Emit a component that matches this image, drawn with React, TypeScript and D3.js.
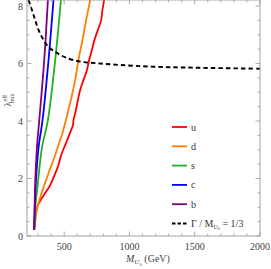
import React from "react";
import * as d3 from "d3";

const W = 271;
const H = 269;

// Series: [M (GeV), lambda]
const uData: [number, number][] = [
  [270, 0.21], [278, 0.63], [286, 0.83], [299, 1.08], [329, 1.32], [360, 1.53],
  [393, 1.77], [426, 2.12], [456, 2.47], [477, 2.82], [508, 3.17], [538, 3.51],
  [567, 3.86], [571, 4.03], [590, 4.38], [605, 4.73], [622, 5.08], [648, 5.43],
  [674, 5.77], [691, 6.12], [712, 6.47], [732, 6.82], [758, 7.17], [783, 7.51],
  [793, 7.86], [806, 8.21],
];
const dData: [number, number][] = [
  [270, 0.21], [278, 0.49], [286, 0.83], [299, 1.08], [329, 1.53], [375, 2.12],
  [431, 2.82], [482, 3.51], [513, 4.03], [551, 4.73], [584, 5.43], [609, 6.12],
  [640, 6.82], [668, 7.51], [699, 8.21],
];
const sData: [number, number][] = [
  [270, 0.21], [278, 0.97], [299, 1.88], [329, 3.06], [375, 4.03], [431, 6.12], [475, 8.21],
];
const cData: [number, number][] = [
  [270, 0.21], [283, 1.88], [303, 3.06], [334, 4.03], [380, 6.12], [418, 8.21],
];
const bData: [number, number][] = [
  [270, 0.21], [278, 1.88], [291, 3.06], [309, 4.03], [347, 6.12], [375, 8.21],
];
const widthData: [number, number][] = [
  [227, 8.21], [253, 7.86], [278, 7.51], [303, 7.17], [342, 6.82], [380, 6.58],
  [444, 6.37], [521, 6.19], [635, 6.06], [750, 6.01], [928, 5.95], [1181, 5.89],
  [1563, 5.85], [2000, 5.82],
];

const seriesNames = ["u", "d", "s", "c", "b"];
const seriesColors = ["#ff0000", "#ff8000", "#1fb21f", "#0000ff", "#800080"];
const seriesData = [uData, dData, sData, cData, bData];

const xTicks = [500, 1000, 1500, 2000];
const yTicks = [0, 2, 4, 6, 8];

export default function App() {
  const left = 27, right = 260, top = 0, bottom = 236;
  const x = d3.scaleLinear().domain([215, 2000]).range([left, right]);
  const y = d3.scaleLinear().domain([0, 8.21]).range([bottom, top]);
  const line = d3
    .line<[number, number]>()
    .x((d) => x(d[0]))
    .y((d) => y(d[1]))
    .curve(d3.curveCatmullRom.alpha(0.5));

  const xMinor = d3.range(300, 2001, 100).filter((v) => v % 500 !== 0);
  const yMinor = d3.range(0.5, 8.2, 0.5).filter((v) => v % 2 !== 0);
  const frame = "#999";
  const font = "'Liberation Serif', 'DejaVu Serif', serif";
  const txt = "#444";

  const legX1 = 172, legX2 = 187, legTx = 191;
  const legY0 = 127, legDy = 19.3;

  return (
    <svg
      width={W}
      height={H}
      style={{ position: "absolute", left: 0, top: 0, background: "#fff" }}
      fontFamily={font}
    >
      <defs>
        <clipPath id="clip">
          <rect x={left} y={top} width={right - left} height={bottom - top} />
        </clipPath>
      </defs>
      {/* ticks */}
      <g stroke={frame} strokeWidth={0.8}>
        {xTicks.map((t) => (
          <g key={"xt" + t}>
            <line x1={x(t)} x2={x(t)} y1={bottom} y2={bottom - 4.5} />
            <line x1={x(t)} x2={x(t)} y1={top} y2={top + 4.5} />
          </g>
        ))}
        {xMinor.map((t) => (
          <g key={"xm" + t}>
            <line x1={x(t)} x2={x(t)} y1={bottom} y2={bottom - 2.5} />
            <line x1={x(t)} x2={x(t)} y1={top} y2={top + 2.5} />
          </g>
        ))}
        {yTicks.map((t) => (
          <g key={"yt" + t}>
            <line x1={left} x2={left + 4.5} y1={y(t)} y2={y(t)} />
            <line x1={right} x2={right - 4.5} y1={y(t)} y2={y(t)} />
          </g>
        ))}
        {yMinor.map((t) => (
          <g key={"ym" + t}>
            <line x1={left} x2={left + 2.5} y1={y(t)} y2={y(t)} />
            <line x1={right} x2={right - 2.5} y1={y(t)} y2={y(t)} />
          </g>
        ))}
      </g>
      {/* curves */}
      <g clipPath="url(#clip)" fill="none">
        {seriesData.map((d, i) => (
          <path key={seriesNames[i]} d={line(d) || ""} stroke={seriesColors[i]} strokeWidth={1.8} />
        ))}
        <path d={line(widthData) || ""} stroke="#000" strokeWidth={1.9} strokeDasharray="4.5,3" />
      </g>
      {/* frame */}
      <rect x={left} y={top} width={right - left} height={bottom - top} fill="none" stroke={frame} strokeWidth={0.9} />
      {/* tick labels */}
      <g fontSize={10} fill={txt}>
        {xTicks.map((t) => (
          <text key={"xl" + t} x={x(t)} y={bottom + 14} textAnchor="middle">
            {t}
          </text>
        ))}
        {yTicks.map((t) => (
          <text key={"yl" + t} x={left - 4} y={y(t) + 3.5} textAnchor="end">
            {t}
          </text>
        ))}
      </g>
      {/* axis labels */}
      <text x={126} y={262} fontSize={10} fill={txt}>
        <tspan fontStyle="italic">M</tspan>
        <tspan fontSize={7} dy={2} fontStyle="italic">U</tspan>
        <tspan fontSize={5} dy={1.5}>λ</tspan>
        <tspan dy={-3.5}> (GeV)</tspan>
      </text>
      <g transform="translate(11,100) rotate(-90)">
        <text x={0} y={0} fontSize={10} fill={txt} textAnchor="middle">
          <tspan>λ</tspan>
          <tspan fontSize={6} dy={-4}>eff</tspan>
          <tspan fontSize={6} dx={-8} dy={7}>mix</tspan>
        </text>
      </g>
      {/* legend */}
      <g>
        {seriesNames.map((n, i) => (
          <g key={"lg" + n}>
            <line x1={legX1} x2={legX2} y1={legY0 + i * legDy} y2={legY0 + i * legDy} stroke={seriesColors[i]} strokeWidth={1.8} />
            <text x={legTx} y={legY0 + i * legDy + 3.5} fontSize={10} fill="#333">
              {n}
            </text>
          </g>
        ))}
        <line x1={legX1} x2={legX2} y1={legY0 + 5 * legDy} y2={legY0 + 5 * legDy} stroke="#000" strokeWidth={1.8} strokeDasharray="3.5,2" />
        <text x={legTx} y={legY0 + 5 * legDy + 3.5} fontSize={10} fill="#333">
          <tspan>Γ / M</tspan>
          <tspan fontSize={6} dy={2}>U</tspan>
          <tspan fontSize={4.5} dy={1}>λ</tspan>
          <tspan dy={-3}> = 1/3</tspan>
        </text>
      </g>
    </svg>
  );
}
